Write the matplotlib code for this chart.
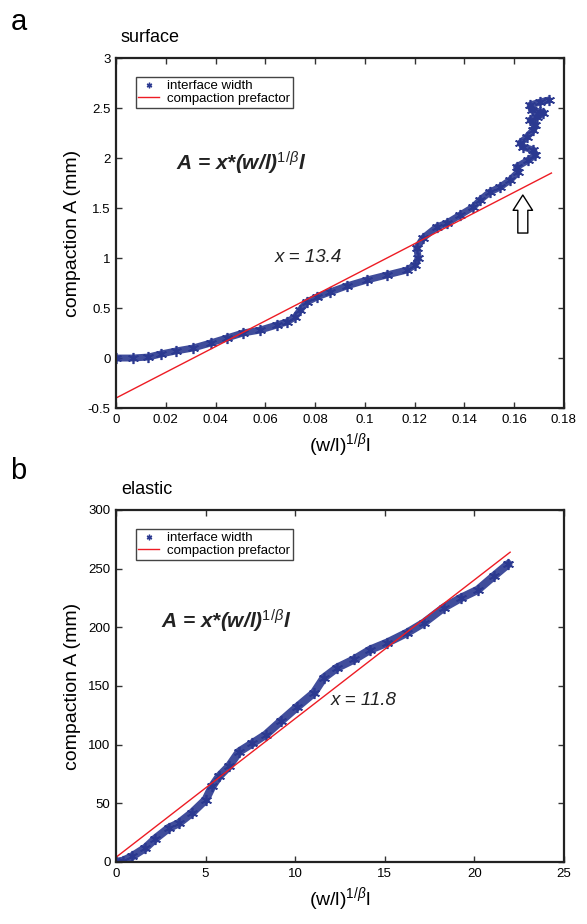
# -*- coding: utf-8 -*-
import matplotlib
matplotlib.use("Agg")
import matplotlib.pyplot as plt
from matplotlib.lines import Line2D
from matplotlib.ticker import FormatStrFormatter

plt.rcParams["font.family"] = ["Liberation Sans", "DejaVu Sans"]
plt.rcParams["axes.unicode_minus"] = False
plt.rcParams["mathtext.fontset"] = "custom"
plt.rcParams["mathtext.rm"] = "Liberation Sans"
plt.rcParams["mathtext.it"] = "Liberation Sans:italic"
plt.rcParams["mathtext.bf"] = "Liberation Sans:bold"

BLUE = "#2B3990"
RED = "#ED1C24"

# Panel a: surface
surf_x = [0, 0.0067, 0.013, 0.018, 0.024, 0.031, 0.038, 0.0445, 0.051, 0.058,
          0.0646, 0.0686, 0.072, 0.074, 0.0767, 0.0807, 0.086, 0.0927, 0.1008,
          0.1088, 0.1169, 0.1202, 0.1215, 0.1209, 0.1234, 0.1289, 0.133,
          0.1383, 0.1436, 0.1463, 0.1503, 0.1544, 0.1584, 0.1616, 0.161,
          0.1657, 0.1685, 0.1677, 0.1637, 0.1625, 0.1651, 0.1677, 0.1685,
          0.1665, 0.1692, 0.1718, 0.1705, 0.167, 0.1665, 0.1705, 0.1739]
surf_y = [0, 0, 0.01, 0.04, 0.07, 0.10, 0.15, 0.20, 0.25, 0.28, 0.33, 0.36,
          0.41, 0.48, 0.56, 0.61, 0.66, 0.72, 0.78, 0.83, 0.88, 0.93, 1.0,
          1.1, 1.2, 1.31, 1.35, 1.43, 1.51, 1.58, 1.66, 1.71, 1.78, 1.86,
          1.91, 1.98, 2.03, 2.08, 2.11, 2.15, 2.21, 2.28, 2.33, 2.38, 2.41,
          2.45, 2.46, 2.48, 2.53, 2.56, 2.58]
surf_fit_x = [0, 0.175]
surf_fit_y = [-0.4, 1.85]
surf_xticks = [0, 0.02, 0.04, 0.06, 0.08, 0.1, 0.12, 0.14, 0.16, 0.18]
surf_yticks = [-0.5, 0, 0.5, 1, 1.5, 2, 2.5, 3]

# Panel b: elastic
elas_x = [0, 0.4, 0.9, 1.64, 2.2, 2.95, 3.5, 4.25, 5.0, 5.37, 5.75, 6.3,
          6.87, 7.6, 8.36, 9.2, 10.1, 11.04, 11.6, 12.35, 13.3, 14.2, 15.15,
          16.27, 17.2, 18.3, 19.25, 20.2, 21.1, 21.9]
elas_y = [0, 1, 4.8, 12, 20, 29, 33, 42, 53, 64.5, 73, 81.5, 94, 101, 108.5,
          120, 132, 144, 157, 165.6, 172.7, 181, 187, 195.5, 204, 216.8, 225,
          232, 243.8, 254]
elas_fit_x = [0, 22]
elas_fit_y = [4, 264]
elas_xticks = [0, 5, 10, 15, 20, 25]
elas_yticks = [0, 50, 100, 150, 200, 250, 300]

STAR = (6, 2, 0)
FORMULA = r"A = x*(w/l)$^{\mathit{1/\beta}}$l"
XLABEL = r"(w/l)$^{1/\beta}$l"
LABELS = ["interface width", "compaction prefactor"]


def draw_panel(ax, x, y, fx, fy, xticks, yticks, band_lw):
    """ Draw data band, fit line and MATLAB-like frame. """
    ax.plot(x, y, "-", color=BLUE, lw=band_lw, alpha=0.9,
            solid_capstyle="round")
    ax.plot(x, y, linestyle="none", marker=STAR, ms=8, mew=1.2, color=BLUE)
    ax.plot(fx, fy, "-", color=RED, lw=1)

    ax.set_xlim(xticks[0], xticks[-1])
    ax.set_ylim(yticks[0], yticks[-1])
    ax.set_xticks(xticks)
    ax.set_yticks(yticks)
    ax.xaxis.set_major_formatter(FormatStrFormatter("%g"))
    ax.yaxis.set_major_formatter(FormatStrFormatter("%g"))
    ax.tick_params(direction="in", top=True, right=True, length=4,
                   width=1, labelsize=9.5, color="#333333", pad=4)
    for s in ax.spines.values():
        s.set_linewidth(1.6)
        s.set_color("#222222")
    ax.set_xlabel(XLABEL, fontsize=14, labelpad=4)
    ax.set_ylabel("compaction A (mm)", fontsize=14, labelpad=5)

    handles = [Line2D([], [], linestyle="none", marker=STAR, ms=4, mew=1,
                      color=BLUE),
               Line2D([], [], color=RED, lw=1)]
    return handles


def add_legend(ax, handles):
    """ Boxed legend at upper left, as in the original. """
    ax.legend(handles, LABELS, loc="upper left",
              bbox_to_anchor=(0.044, 0.945), fontsize=9.5, frameon=True,
              fancybox=False, edgecolor="#444444", framealpha=1,
              handlelength=1.6, borderpad=0.2, labelspacing=0.05,
              handletextpad=0.6, borderaxespad=0)


fig = plt.figure(figsize=(5.87, 9.24), dpi=100)
ax_a = fig.add_axes([0.1976, 0.5584, 0.763, 0.3788])
ax_b = fig.add_axes([0.1976, 0.0671, 0.763, 0.3810])

h = draw_panel(ax_a, surf_x, surf_y, surf_fit_x, surf_fit_y,
               surf_xticks, surf_yticks, 5)
add_legend(ax_a, h)
ax_a.text(0.024, 1.95, FORMULA, fontsize=15, fontweight="bold",
          style="italic", va="center", ha="left", color="#222222")
ax_a.text(0.064, 1.01, "x = 13.4", fontsize=13.5, style="italic",
          va="center", ha="left", color="#222222")
ax_a.annotate("", xy=(0.1635, 1.63), xytext=(0.1635, 1.25),
              arrowprops=dict(arrowstyle="simple,head_length=0.55,"
                              "head_width=0.7,tail_width=0.36",
                              fc="white", ec="black", lw=1,
                              mutation_scale=20, shrinkA=0, shrinkB=0))

h = draw_panel(ax_b, elas_x, elas_y, elas_fit_x, elas_fit_y,
               elas_xticks, elas_yticks, 6)
add_legend(ax_b, h)
ax_b.text(2.5, 205, FORMULA, fontsize=15, fontweight="bold",
          style="italic", va="center", ha="left", color="#222222")
ax_b.text(12.0, 138, "x = 11.8", fontsize=13.5, style="italic",
          va="center", ha="left", color="#222222")

fig.text(0.018, 0.976, "a", fontsize=21, va="center", ha="left")
fig.text(0.206, 0.959, "surface", fontsize=13, va="center", ha="left")
fig.text(0.018, 0.490, "b", fontsize=21, va="center", ha="left")
fig.text(0.206, 0.470, "elastic", fontsize=13, va="center", ha="left")

fig.savefig("out.png", dpi=100)
